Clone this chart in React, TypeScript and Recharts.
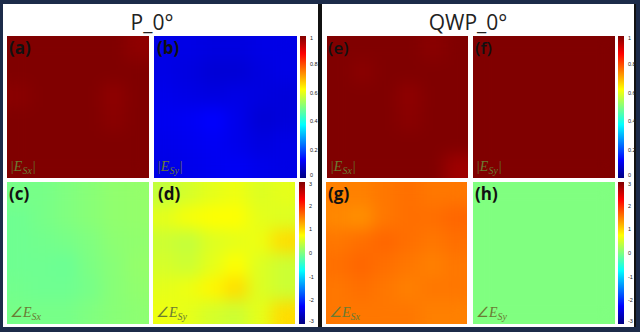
import { Bar, BarChart, Scatter, ScatterChart, XAxis, YAxis } from "recharts"

// 6x6 field maps, rows from top to bottom
const GRID = 6

const p0AbsEx = [
  [1, 1, 1, 1, 1, 0.985],
  [1, 1, 1, 1, 1, 1],
  [0.99, 1, 1, 1, 0.985, 1],
  [1, 1, 1, 1, 0.99, 1],
  [1, 1, 1, 1, 1, 1],
  [1, 1, 1, 1, 1, 1],
]
const p0AbsEy = [
  [0.1, 0.1, 0.095, 0.095, 0.1, 0.1],
  [0.1, 0.095, 0.085, 0.085, 0.095, 0.1],
  [0.105, 0.1, 0.095, 0.1, 0.095, 0.09],
  [0.11, 0.115, 0.125, 0.105, 0.085, 0.09],
  [0.105, 0.11, 0.115, 0.105, 0.095, 0.1],
  [0.1, 0.105, 0.11, 0.115, 0.105, 0.1],
]
const p0PhaseEx = [
  [-0.05, -0.05, 0, 0.05, 0.1, 0.12],
  [-0.1, -0.05, 0, 0.05, 0.1, 0.12],
  [-0.1, -0.08, -0.05, 0, 0.08, 0.1],
  [-0.1, -0.1, -0.12, -0.02, 0.05, 0.12],
  [-0.08, -0.1, -0.1, -0.05, 0.05, 0.1],
  [-0.05, -0.05, -0.05, 0, 0.05, 0.08],
]
const p0PhaseEy = [
  [0.4, 0.5, 0.6, 0.65, 0.55, 0.6],
  [0.6, 0.7, 0.75, 0.75, 0.6, 0.55],
  [0.45, 0.4, 0.55, 0.6, 0.65, 0.95],
  [0.5, 0.45, 0.6, 0.75, 0.55, 0.45],
  [0.6, 0.65, 0.8, 0.95, 0.55, 0.45],
  [0.65, 0.6, 0.5, 0.45, 0.6, 0.95],
]
const qwpAbsEx = [
  [1, 1, 1, 1, 0.99, 1],
  [1, 0.99, 1, 1, 1, 1],
  [1, 1, 1, 0.985, 1, 1],
  [1, 1, 1, 0.99, 1, 1],
  [1, 1, 1, 1, 1, 1],
  [1, 1, 1, 1, 1, 0.97],
]
const qwpAbsEy = [
  [1, 1, 1, 1, 1, 1],
  [1, 1, 1, 1, 1, 1],
  [1, 1, 1, 1, 1, 1],
  [1, 1, 1, 1, 1, 1],
  [1, 1, 1, 1, 1, 1],
  [1, 1, 1, 1, 1, 1],
]
const qwpPhaseEx = [
  [1.5, 1.5, 1.55, 1.6, 1.55, 1.55],
  [1.45, 1.4, 1.55, 1.6, 1.6, 1.65],
  [1.55, 1.6, 1.65, 1.6, 1.55, 1.6],
  [1.6, 1.65, 1.6, 1.55, 1.5, 1.55],
  [1.55, 1.6, 1.55, 1.5, 1.55, 1.55],
  [1.55, 1.55, 1.55, 1.55, 1.5, 1.5],
]
const qwpPhaseEy = [
  [0, 0, 0, 0, 0, 0],
  [0, 0, 0, 0, 0, 0],
  [0, 0, 0, 0, 0, 0],
  [0, 0, 0, 0, 0, 0],
  [0, 0, 0, 0, 0, 0],
  [0, 0, 0, 0, 0, 0],
]

const ampTicks = [0, 0.2, 0.4, 0.6, 0.8, 1]
const phaseTicks = [-3, -2, -1, 0, 1, 2, 3]

const clamp = (v: number) => Math.max(0, Math.min(1, v))
function jet(n: number) {
  const t = clamp(n)
  const r = clamp(1.5 - Math.abs(4 * t - 3))
  const g = clamp(1.5 - Math.abs(4 * t - 2))
  const b = clamp(1.5 - Math.abs(4 * t - 1))
  return `rgb(${Math.round(r * 255)},${Math.round(g * 255)},${Math.round(b * 255)})`
}

const toCells = (grid: number[][]) =>
  grid.flatMap((row, r) => row.map((v, c) => ({ x: c + 0.5, y: GRID - r - 0.5, v })))

function Heatmap({ grid, ticks, w, h }: { grid: number[][]; ticks: number[]; w: number; h: number }) {
  const min = ticks[0]
  const max = ticks[ticks.length - 1]
  const cw = w / GRID
  const ch = h / GRID
  return (
    <ScatterChart width={w} height={h} margin={{ top: 0, right: 0, bottom: 0, left: 0 }} className="heat">
      <XAxis type="number" dataKey="x" domain={[0, GRID]} hide />
      <YAxis type="number" dataKey="y" domain={[0, GRID]} hide />
      <Scatter
        data={toCells(grid)}
        isAnimationActive={false}
        shape={(p: any) => (
          <rect
            x={p.cx - cw / 2}
            y={p.cy - ch / 2}
            width={cw + 0.6}
            height={ch + 0.6}
            fill={jet((p.payload.v - min) / (max - min))}
          />
        )}
      />
    </ScatterChart>
  )
}

function Colorbar({ ticks, id, h }: { ticks: number[]; id: string; h: number }) {
  const min = ticks[0]
  const max = ticks[ticks.length - 1]
  const stops = Array.from({ length: 17 }, (_, i) => i / 16)
  // end labels are pulled inward so they stay inside the bar's height
  const renderTick = (p: any) => {
    const v = p.payload.value
    const shift = v === max ? 2.5 : v === min ? -2.5 : 0
    return (
      <text x={p.x} y={p.y + shift} dy="0.35em" textAnchor="start" fontSize={5.5} fill="#222" fontFamily="Liberation Sans">
        {v}
      </text>
    )
  }
  return (
    <BarChart
      width={19}
      height={h + 8}
      data={[{ name: id, range: [min, max] }]}
      margin={{ top: 4, right: 0, bottom: 4, left: 0 }}
      barCategoryGap={0}
    >
      <defs>
        <linearGradient id={id} x1="0" y1="1" x2="0" y2="0">
          {stops.map((s) => (
            <stop key={s} offset={s} stopColor={jet(s)} />
          ))}
        </linearGradient>
      </defs>
      <XAxis dataKey="name" hide />
      <YAxis
        type="number"
        orientation="right"
        domain={[min, max]}
        ticks={ticks}
        width={13}
        axisLine={false}
        tickLine={false}
        tickSize={2}
        tick={renderTick}
        interval={0}
      />
      <Bar dataKey="range" fill={`url(#${id})`} isAnimationActive={false} />
    </BarChart>
  )
}

const panels = [
  { key: "a", grid: p0AbsEx, ticks: ampTicks, x: 7, y: 36, w: 142, lx: 9, weight: 700, q: "abs", sub: "Sx" },
  { key: "b", grid: p0AbsEy, ticks: ampTicks, x: 154, y: 36, w: 143, lx: 157, weight: 700, q: "abs", sub: "Sy" },
  { key: "c", grid: p0PhaseEx, ticks: phaseTicks, x: 7, y: 182, w: 142, lx: 9, weight: 700, q: "arg", sub: "Sx" },
  { key: "d", grid: p0PhaseEy, ticks: phaseTicks, x: 153, y: 182, w: 142, lx: 158, weight: 700, q: "arg", sub: "Sy" },
  { key: "e", grid: qwpAbsEx, ticks: ampTicks, x: 327, y: 36, w: 141, lx: 328, weight: 600, q: "abs", sub: "Sx" },
  { key: "f", grid: qwpAbsEy, ticks: ampTicks, x: 473, y: 36, w: 142, lx: 475, weight: 600, q: "abs", sub: "Sy" },
  { key: "g", grid: qwpPhaseEx, ticks: phaseTicks, x: 326, y: 182, w: 141, lx: 328, weight: 700, q: "arg", sub: "Sx" },
  { key: "h", grid: qwpPhaseEy, ticks: phaseTicks, x: 473, y: 182, w: 142, lx: 475, weight: 700, q: "arg", sub: "Sy" },
]

const colorbars = [
  { id: "cb1", ticks: ampTicks, x: 300, y: 36 },
  { id: "cb2", ticks: phaseTicks, x: 299, y: 182 },
  { id: "cb3", ticks: ampTicks, x: 618, y: 36 },
  { id: "cb4", ticks: phaseTicks, x: 618, y: 182 },
]

const abs: React.CSSProperties = { position: "absolute" }

export default function App() {
  return (
    <div style={{ position: "fixed", left: 0, top: 0, width: 640, height: 332, background: "#1c2b49", overflow: "hidden" }}>
      <style>{`.heat .recharts-scatter { filter: url(#smooth); }`}</style>
      <svg width={0} height={0} style={{ position: "absolute" }}>
        <filter id="smooth" x="0" y="0" width="1" height="1" colorInterpolationFilters="sRGB">
          <feGaussianBlur stdDeviation={8} />
          <feComponentTransfer>
            <feFuncA type="table" tableValues="1 1" />
          </feComponentTransfer>
        </filter>
      </svg>
      <div style={{ ...abs, left: 3, top: 4, width: 315, height: 323, background: "#fff" }} />
      <div style={{ ...abs, left: 318, top: 4, width: 4, height: 323, background: "#111" }} />
      <div style={{ ...abs, left: 322, top: 4, width: 312, height: 323, background: "#fff", borderRight: "2px solid #111" }} />

      <div style={{ ...abs, left: 52, width: 200, top: 8, textAlign: "center", fontFamily: "Open Sans", fontSize: 21, color: "#222" }}>
        P_0°
      </div>
      <div style={{ ...abs, left: 368, width: 200, top: 8, textAlign: "center", fontFamily: "Open Sans", fontSize: 21, color: "#222" }}>
        QWP_0°
      </div>

      {panels.map((p) => (
        <div key={p.key} style={{ ...abs, left: p.x, top: p.y, width: p.w, height: 142 }}>
          <Heatmap grid={p.grid} ticks={p.ticks} w={p.w} h={142} />
        </div>
      ))}
      {colorbars.map((c) => (
        <div key={c.id} style={{ ...abs, left: c.x, top: c.y - 4 }}>
          <Colorbar id={c.id} ticks={c.ticks} h={142} />
        </div>
      ))}

      {panels.map((p) => (
        <div
          key={p.key + "-tag"}
          style={{ ...abs, left: p.lx, top: p.y + 1, fontFamily: "Open Sans", fontWeight: p.weight, fontSize: 17, lineHeight: "22px", color: "#111" }}
        >
          ({p.key})
        </div>
      ))}
      {panels.map((p) => (
        <div
          key={p.key + "-q"}
          style={{
            ...abs,
            left: p.x + 3,
            top: p.y + 121,
            fontFamily: "Liberation Serif",
            fontStyle: "italic",
            fontSize: 14,
            lineHeight: "20px",
            color: "#6a7b33",
            whiteSpace: "nowrap",
          }}
        >
          {p.q === "abs" ? "|" : "∠"}E
          <span style={{ fontSize: 10, position: "relative", top: 3 }}>{p.sub}</span>
          {p.q === "abs" ? "|" : ""}
        </div>
      ))}
    </div>
  )
}
